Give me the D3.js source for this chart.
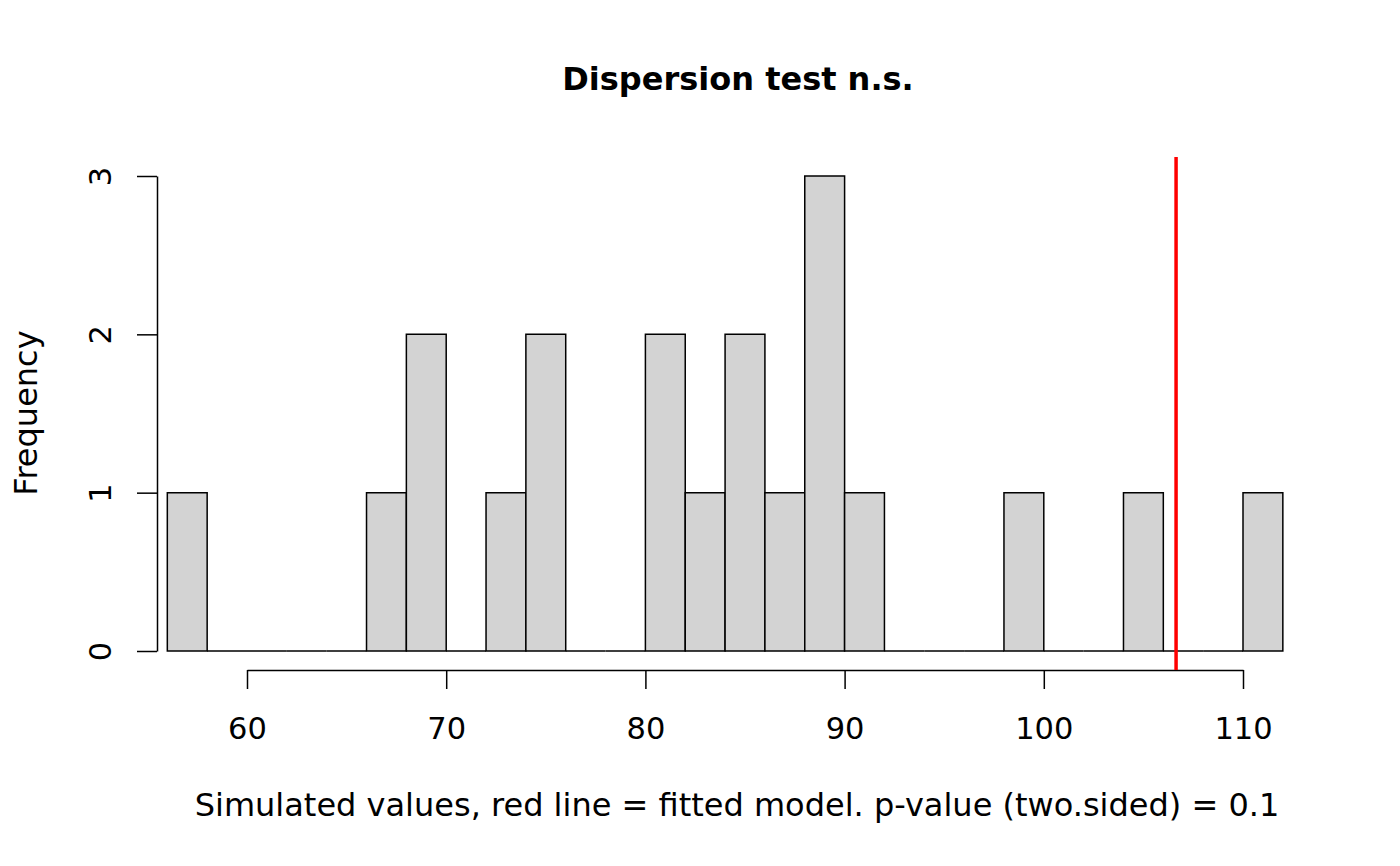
<!DOCTYPE html>
<html>
<head>
<meta charset="utf-8">
<script src="https://cdn.jsdelivr.net/npm/d3@7"></script>
<style>
  body { margin: 0; background: #fff; }
  svg { font-family: "DejaVu Sans", sans-serif; }
</style>
</head>
<body>
<svg id="chart" width="1400" height="866"></svg>
<script>
// histogram bins (width 2) and counts
const binStarts = [56,58,60,62,64,66,68,70,72,74,76,78,80,82,84,86,88,90,92,94,96,98,100,102,104,106,108,110];
const counts    = [ 1, 0, 0, 0, 0, 1, 2, 0, 1, 2, 0, 0, 2, 1, 2, 1, 3, 1, 0, 0, 0, 1,  0,  0,  1,  0,  0,  1];
const binWidth = 2;
const observed = 106.64;
const xTicks = [60, 70, 80, 90, 100, 110];
const yTicks = [0, 1, 2, 3];

const svg = d3.select("#chart");

const x = d3.scaleLinear().domain([60, 110]).range([247, 1243]);
const y = d3.scaleLinear().domain([0, 3]).range([651, 176]);

const bins = binStarts.map((s, i) => ({ start: s, count: counts[i] }));

// bars drawn as closed outlines so empty bins still show on the baseline, like R
svg.append("g").selectAll("path")
    .data(bins)
    .enter().append("path")
    .attr("d", d => {
        const x0 = x(d.start), x1 = x(d.start + binWidth);
        const y0 = y(0), y1 = y(d.count);
        return `M${x0},${y0}L${x0},${y1}L${x1},${y1}L${x1},${y0}Z`;
    })
    .attr("fill", "#d3d3d3")
    .attr("stroke", "black")
    .attr("stroke-width", 1.5);

// x axis (R style, detached below)
const xAxis = d3.axisBottom(x).tickValues(xTicks).tickSize(19).tickPadding(28).tickSizeOuter(0);
const gx = svg.append("g").attr("transform", "translate(0,670)").call(xAxis);
gx.select(".domain").attr("stroke-width", 1.5);
gx.selectAll(".tick line").attr("stroke-width", 1.5);
gx.selectAll(".tick text").attr("font-size", 30.5).attr("font-family", "DejaVu Sans").attr("fill", "black");

// y axis with rotated labels
const yAxis = d3.axisLeft(y).tickValues(yTicks).tickFormat(d3.format("d")).tickSize(20).tickSizeOuter(0);
const gy = svg.append("g").attr("transform", "translate(157,0)").call(yAxis);
gy.select(".domain").attr("stroke-width", 1.5);
gy.selectAll(".tick line").attr("stroke-width", 1.5);
gy.selectAll(".tick text")
    .attr("font-size", 30.5).attr("font-family", "DejaVu Sans").attr("fill", "black")
    .attr("x", 0).attr("dy", 0)
    .attr("text-anchor", "middle")
    .attr("transform", "translate(-57,0) rotate(-90)")
    .attr("dominant-baseline", "central");

// observed value
svg.append("line")
    .attr("x1", x(observed)).attr("x2", x(observed))
    .attr("y1", 157).attr("y2", 670)
    .attr("stroke", "red").attr("stroke-width", 3.5);

// titles
svg.append("text")
    .attr("x", 738).attr("y", 90)
    .attr("text-anchor", "middle")
    .attr("font-size", 32).attr("font-weight", "bold")
    .text("Dispersion test n.s.");

svg.append("text")
    .attr("x", 737).attr("y", 816)
    .attr("text-anchor", "middle")
    .attr("font-size", 32)
    .text("Simulated values, red line = fitted model. p-value (two.sided) = 0.1");

svg.append("text")
    .attr("transform", "translate(37,413) rotate(-90)")
    .attr("text-anchor", "middle")
    .attr("font-size", 32)
    .text("Frequency");
</script>
</body>
</html>
